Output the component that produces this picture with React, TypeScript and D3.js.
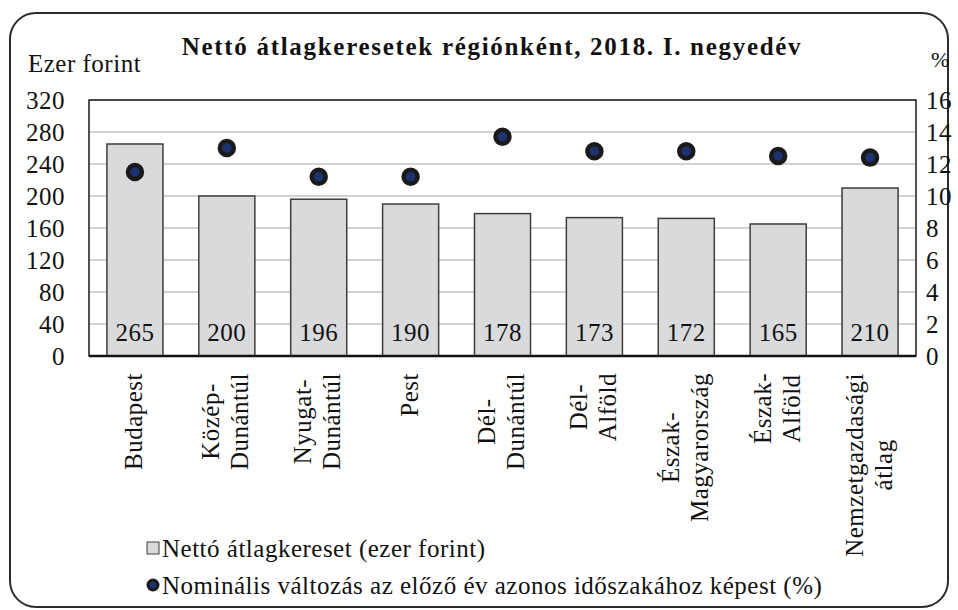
import React, { useEffect, useRef } from "react";
import * as d3 from "d3";

const categories = [
  "Budapest",
  "Közép-Dunántúl",
  "Nyugat-Dunántúl",
  "Pest",
  "Dél-Dunántúl",
  "Dél-Alföld",
  "Észak-Magyarország",
  "Észak-Alföld",
  "Nemzetgazdasági átlag",
];
const categoryLines = [
  ["Budapest"],
  ["Közép-", "Dunántúl"],
  ["Nyugat-", "Dunántúl"],
  ["Pest"],
  ["Dél-", "Dunántúl"],
  ["Dél-", "Alföld"],
  ["Észak-", "Magyarország"],
  ["Észak-", "Alföld"],
  ["Nemzetgazdasági", "átlag"],
];
const salary = [265, 200, 196, 190, 178, 173, 172, 165, 210];
const change = [11.5, 13.0, 11.2, 11.2, 13.7, 12.8, 12.8, 12.5, 12.4];
const leftTicks = [0, 40, 80, 120, 160, 200, 240, 280, 320];
const rightTicks = [0, 2, 4, 6, 8, 10, 12, 14, 16];

const title = "Nettó átlagkeresetek régiónként, 2018. I. negyedév";
const leftUnit = "Ezer forint";
const rightUnit = "%";
const legendBar = "Nettó átlagkereset (ezer forint)";
const legendDot = "Nominális változás az előző év azonos időszakához képest (%)";

const W = 958;
const H = 610;
const FONT = "'Liberation Serif', 'Times New Roman', Times, serif";
const FS = 25;
const LS = 0.5;

export default function App() {
  const ref = useRef<SVGSVGElement | null>(null);

  useEffect(() => {
    const svg = d3.select(ref.current);
    svg.selectAll("*").remove();

    const plot = { left: 89, right: 916, top: 100, bottom: 356 };
    const x = d3
      .scaleBand<string>()
      .domain(categories)
      .range([plot.left, plot.right])
      .paddingInner(0.39)
      .paddingOuter(0.195);
    const yL = d3.scaleLinear().domain([0, 320]).range([plot.bottom, plot.top]);
    const yR = d3.scaleLinear().domain([0, 16]).range([plot.bottom, plot.top]);

    const txt = (sel: any) =>
      sel
        .attr("font-family", FONT)
        .attr("font-size", FS)
        .attr("letter-spacing", LS)
        .attr("fill", "#111");

    // outer rounded frame
    svg
      .append("rect")
      .attr("x", 10)
      .attr("y", 13)
      .attr("width", 938)
      .attr("height", 594)
      .attr("rx", 26)
      .attr("fill", "#fff")
      .attr("stroke", "#2b2b2b")
      .attr("stroke-width", 2);

    // title
    svg
      .append("text")
      .attr("x", 492)
      .attr("y", 55)
      .attr("text-anchor", "middle")
      .attr("font-family", FONT)
      .attr("font-weight", "bold")
      .attr("font-size", 25)
      .attr("letter-spacing", 1.7)
      .attr("fill", "#111")
      .text(title);

    svg.append("text").attr("x", 28).attr("y", 72).call(txt).text(leftUnit);

    svg
      .append("text")
      .attr("x", 931)
      .attr("y", 67)
      .call(txt)
      .attr("font-size", 22)
      .text(rightUnit);

    // gridlines
    svg
      .append("g")
      .selectAll("line")
      .data(leftTicks.filter((t) => t > 0))
      .join("line")
      .attr("x1", plot.left)
      .attr("x2", plot.right)
      .attr("y1", (d) => yL(d))
      .attr("y2", (d) => yL(d))
      .attr("stroke", "#c4c4c4")
      .attr("stroke-width", 1.5);

    // left axis labels
    svg
      .append("g")
      .selectAll("text")
      .data(leftTicks)
      .join("text")
      .attr("x", 65)
      .attr("y", (d) => yL(d))
      .attr("dy", "0.34em")
      .attr("text-anchor", "end")
      .call(txt)
      .text((d) => String(d));

    // right axis labels
    svg
      .append("g")
      .selectAll("text")
      .data(rightTicks)
      .join("text")
      .attr("x", 926)
      .attr("y", (d) => yR(d))
      .attr("dy", "0.34em")
      .attr("text-anchor", "start")
      .call(txt)
      .text((d) => String(d));

    // bars
    svg
      .append("g")
      .selectAll("rect")
      .data(salary)
      .join("rect")
      .attr("x", (_, i) => x(categories[i])!)
      .attr("y", (d) => yL(d))
      .attr("width", x.bandwidth())
      .attr("height", (d) => yL(0) - yL(d))
      .attr("fill", "#d9dadc")
      .attr("stroke", "#3d3d3d")
      .attr("stroke-width", 1.5);

    // bar value labels
    svg
      .append("g")
      .selectAll("text")
      .data(salary)
      .join("text")
      .attr("x", (_, i) => x(categories[i])! + x.bandwidth() / 2)
      .attr("y", yL(0) - 15)
      .attr("text-anchor", "middle")
      .call(txt)
      .text((d) => String(d));

    // plot frame
    svg
      .append("rect")
      .attr("x", plot.left)
      .attr("y", plot.top)
      .attr("width", plot.right - plot.left)
      .attr("height", plot.bottom - plot.top)
      .attr("fill", "none")
      .attr("stroke", "#1a1a1a")
      .attr("stroke-width", 1.5);
    svg
      .append("line")
      .attr("x1", plot.left)
      .attr("x2", plot.right)
      .attr("y1", plot.bottom)
      .attr("y2", plot.bottom)
      .attr("stroke", "#111")
      .attr("stroke-width", 2.5);

    // dots
    svg
      .append("g")
      .selectAll("circle")
      .data(change)
      .join("circle")
      .attr("cx", (_, i) => x(categories[i])! + x.bandwidth() / 2)
      .attr("cy", (d) => yR(d))
      .attr("r", 7)
      .attr("fill", "#1d3270")
      .attr("stroke", "#1a1a1a")
      .attr("stroke-width", 4.5);

    // category labels (rotated, lines centered, block top at y=373)
    const labelTop = 373;
    const lineGap = 29;
    categoryLines.forEach((lines, i) => {
      const cx = x(categories[i])! + x.bandwidth() / 2;
      const g = svg.append("g").attr("transform", `rotate(-90)`);
      const texts = lines.map((ln, j) => {
        const off = (j - (lines.length - 1) / 2) * lineGap + 7;
        return g
          .append("text")
          .attr("y", cx + off)
          .attr("text-anchor", "middle")
          .call(txt)
          .text(ln);
      });
      const maxLen =
        d3.max(texts, (t) => (t.node() as SVGTextElement).getComputedTextLength()) || 0;
      texts.forEach((t) => t.attr("x", -(labelTop + maxLen / 2)));
    });

    // legend
    svg
      .append("rect")
      .attr("x", 147)
      .attr("y", 542)
      .attr("width", 12)
      .attr("height", 12)
      .attr("fill", "#d9dadc")
      .attr("stroke", "#3d3d3d")
      .attr("stroke-width", 1);
    svg.append("text").attr("x", 162).attr("y", 557).call(txt).text(legendBar);
    svg
      .append("circle")
      .attr("cx", 153)
      .attr("cy", 585)
      .attr("r", 5)
      .attr("fill", "#1d3270")
      .attr("stroke", "#1a1a1a")
      .attr("stroke-width", 3);
    svg.append("text").attr("x", 162).attr("y", 594).call(txt).text(legendDot);
  }, []);

  return (
    <svg
      ref={ref}
      width={W}
      height={H}
      style={{ position: "absolute", left: 0, top: 0, background: "#fff" }}
    />
  );
}
